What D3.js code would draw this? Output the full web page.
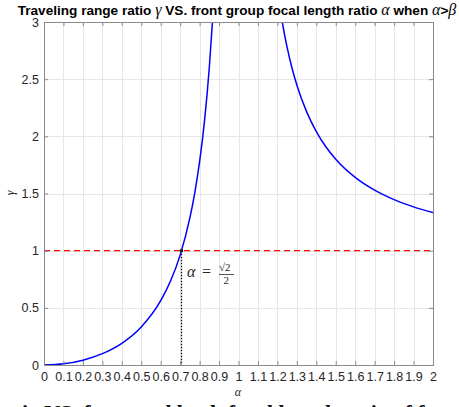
<!DOCTYPE html>
<html>
<head>
<meta charset="utf-8">
<script src="https://cdn.jsdelivr.net/npm/d3@7"></script>
<style>
  body { margin: 0; background: #fff; }
  svg { display: block; }
  .tick text { font-family: "Liberation Sans", Arial, sans-serif; font-size: 12.5px; fill: #262626; }
</style>
</head>
<body>
<script>
// values
var leftAlpha = [0, 0.1, 0.2, 0.3, 0.4, 0.5, 0.6, 0.65, 0.7, 0.75, 0.775, 0.8, 0.825, 0.85, 0.866, 0.88];
var leftGamma = [0, 0.01, 0.042, 0.099, 0.19, 0.333, 0.563, 0.732, 0.961, 1.286, 1.504, 1.778, 2.131, 2.604, 3.0, 3.4];
var rightAlpha = [1.2, 1.225, 1.25, 1.275, 1.3, 1.35, 1.4, 1.45, 1.5, 1.6, 1.7, 1.8, 1.9, 2.0];
var rightGamma = [3.27, 3.0, 2.778, 2.598, 2.449, 2.216, 2.042, 1.907, 1.8, 1.641, 1.529, 1.446, 1.383, 1.333];
var xTicks = [0, 0.1, 0.2, 0.3, 0.4, 0.5, 0.6, 0.7, 0.8, 0.9, 1, 1.1, 1.2, 1.3, 1.4, 1.5, 1.6, 1.7, 1.8, 1.9, 2];
var yTicks = [0, 0.5, 1, 1.5, 2, 2.5, 3];
var refGamma = 1;
var refAlpha = 0.7071;

var W = 459, H = 407;
var svg = d3.select("body").append("svg").attr("width", W).attr("height", H);

var x = d3.scaleLinear().domain([0, 2]).range([44, 433]);
var y = d3.scaleLinear().domain([0, 3]).range([365, 22]);

// grid
svg.append("g").selectAll("line").data(xTicks).enter().append("line")
	.attr("x1", function(d) { return Math.round(x(d)) + 0.5; })
	.attr("x2", function(d) { return Math.round(x(d)) + 0.5; })
	.attr("y1", y(0)).attr("y2", y(3))
	.style("stroke", "#e6e6e6");
svg.append("g").selectAll("line").data(yTicks).enter().append("line")
	.attr("y1", function(d) { return Math.round(y(d)) + 0.5; })
	.attr("y2", function(d) { return Math.round(y(d)) + 0.5; })
	.attr("x1", x(0)).attr("x2", x(2))
	.style("stroke", "#e6e6e6");

svg.append("clipPath").attr("id", "clip").append("rect")
	.attr("x", x(0)).attr("y", y(3)).attr("width", x(2) - x(0)).attr("height", y(0) - y(3));

var plot = svg.append("g").attr("clip-path", "url(#clip)");

// reference lines
plot.append("line")
	.attr("x1", x(0)).attr("x2", x(2))
	.attr("y1", y(refGamma)).attr("y2", y(refGamma))
	.style("stroke", "#ff0000").style("stroke-width", 1.2)
	.style("stroke-dasharray", "6,4");
plot.append("line")
	.attr("x1", x(refAlpha)).attr("x2", x(refAlpha))
	.attr("y1", y(refGamma)).attr("y2", y(0))
	.style("stroke", "#000").style("stroke-width", 1.2)
	.style("stroke-dasharray", "1.5,1.5");

var line = d3.line()
	.x(function(d) { return x(d[0]); })
	.y(function(d) { return y(d[1]); })
	.curve(d3.curveMonotoneX);

plot.append("path")
	.datum(d3.zip(leftAlpha, leftGamma))
	.attr("d", line)
	.style("fill", "none").style("stroke", "#0000ff").style("stroke-width", 1.5);
plot.append("path")
	.datum(d3.zip(rightAlpha, rightGamma))
	.attr("d", line)
	.style("fill", "none").style("stroke", "#0000ff").style("stroke-width", 1.5);

plot.append("rect")
	.attr("x", x(refAlpha) - 1.5).attr("y", y(refGamma) - 1.5)
	.attr("width", 3).attr("height", 3)
	.style("fill", "#222");

// axes
svg.append("g").attr("transform", "translate(0," + y(0) + ")")
	.call(d3.axisBottom(x).tickValues(xTicks).tickSize(-4).tickPadding(7)
		.tickFormat(function(d) { return String(+d.toFixed(1)); }));
svg.append("g").attr("transform", "translate(" + x(0) + ",0)")
	.call(d3.axisLeft(y).tickValues(yTicks).tickSize(-4).tickPadding(5)
		.tickFormat(function(d) { return String(d); }));
svg.append("g").attr("transform", "translate(0," + y(3) + ")")
	.call(d3.axisTop(x).tickValues(xTicks).tickSize(-4).tickFormat(""));
svg.append("g").attr("transform", "translate(" + x(2) + ",0)")
	.call(d3.axisRight(y).tickValues(yTicks).tickSize(-4).tickFormat(""));
svg.selectAll(".domain").style("stroke", "#8a8a8a");
svg.selectAll(".tick line").style("stroke", "#8a8a8a");

// labels
var mathStyle = "font-family:Liberation Serif;font-style:italic;font-weight:normal;font-size:16px";
svg.append("text")
	.attr("x", 237).attr("y", 15)
	.attr("text-anchor", "middle")
	.style("font-family", "Liberation Sans, Arial, sans-serif")
	.style("font-weight", "bold").style("font-size", "13.6px")
	.html('Traveling range ratio <tspan style="' + mathStyle + '">γ</tspan> VS. front group focal length ratio <tspan style="' + mathStyle + '">α</tspan> when <tspan style="' + mathStyle + '">α</tspan>&gt;<tspan style="' + mathStyle + '">β</tspan>');

svg.append("text")
	.attr("x", 238).attr("y", 396)
	.attr("text-anchor", "middle")
	.style("font-family", "Liberation Serif, serif").style("font-style", "italic")
	.style("font-size", "12px").style("fill", "#262626")
	.text("α");

svg.append("text")
	.attr("transform", "translate(14,193) rotate(-90)")
	.attr("text-anchor", "middle")
	.style("font-family", "Liberation Serif, serif").style("font-style", "italic")
	.style("font-size", "12px").style("fill", "#262626")
	.text("γ");

// annotation alpha = sqrt(2)/2
var ann = svg.append("g").style("font-family", "Liberation Serif, serif").style("fill", "#262626");
ann.append("text").attr("x", 187).attr("y", 277).style("font-style", "italic").style("font-size", "16px").text("α");
ann.append("text").attr("x", 202).attr("y", 277).style("font-size", "16px").text("=");
ann.append("text").attr("x", 219).attr("y", 271).style("font-size", "11px").text("√2");
ann.append("line").attr("x1", 219).attr("x2", 234).attr("y1", 274.5).attr("y2", 274.5)
	.style("stroke", "#262626").style("stroke-width", 0.8);
ann.append("text").attr("x", 223.5).attr("y", 284).style("font-size", "11px").text("2");

// cut-off caption below the figure
svg.append("text")
	.attr("x", 22).attr("y", 419.5)
	.style("font-family", "Liberation Serif, serif").style("font-weight", "bold")
	.style("font-size", "22px").style("fill", "#111")
	.text("io VS. front and back focal length ratio of front");
</script>
</body>
</html>
